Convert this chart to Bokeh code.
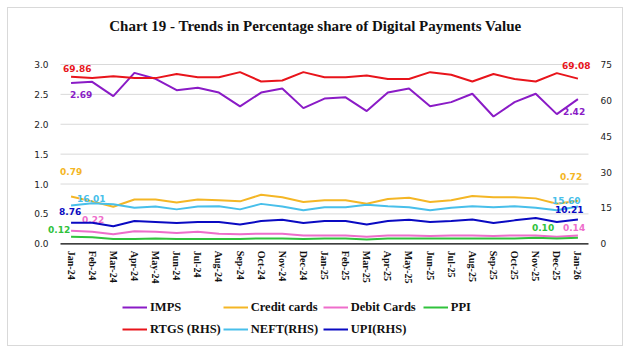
from bokeh.plotting import figure
from bokeh.models import (Range1d, LinearAxis, FixedTicker, FactorRange, Legend, LegendItem,
                          NumeralTickFormatter, Label)
from bokeh.core.properties import value
from bokeh.embed import file_html
from bokeh.resources import INLINE

months = ["Jan-24", "Feb-24", "Mar-24", "Apr-24", "May-24", "Jun-24", "Jul-24", "Aug-24",
          "Sep-24", "Oct-24", "Nov-24", "Dec-24", "Jan-25", "Feb-25", "Mar-25", "Apr-25",
          "May-25", "Jun-25", "Jul-25", "Aug-25", "Sep-25", "Oct-25", "Nov-25", "Dec-25", "Jan-26"]

imps = [2.69, 2.71, 2.47, 2.86, 2.76, 2.57, 2.61, 2.53, 2.30, 2.53, 2.60, 2.27, 2.43,
        2.45, 2.22, 2.53, 2.60, 2.30, 2.37, 2.51, 2.13, 2.37, 2.51, 2.17, 2.42]
credit_cards = [0.79, 0.71, 0.62, 0.74, 0.74, 0.69, 0.74, 0.73, 0.71, 0.82, 0.78, 0.70, 0.73,
                0.73, 0.67, 0.75, 0.77, 0.70, 0.73, 0.80, 0.78, 0.78, 0.76, 0.67, 0.72]
debit_cards = [0.22, 0.20, 0.16, 0.21, 0.20, 0.18, 0.20, 0.17, 0.16, 0.17, 0.17, 0.14, 0.14,
               0.14, 0.12, 0.14, 0.14, 0.13, 0.14, 0.14, 0.13, 0.14, 0.14, 0.12, 0.14]
ppi = [0.12, 0.11, 0.08, 0.08, 0.09, 0.08, 0.08, 0.08, 0.08, 0.09, 0.09, 0.08, 0.09,
       0.09, 0.07, 0.09, 0.09, 0.09, 0.09, 0.09, 0.09, 0.09, 0.10, 0.09, 0.10]
rtgs = [69.86, 69.3, 70.1, 69.3, 69.3, 71.0, 69.7, 69.7, 71.8, 67.9, 68.3, 71.8, 69.7,
        69.7, 70.4, 68.9, 68.9, 71.8, 70.7, 67.9, 71.0, 68.9, 67.9, 71.4, 69.08]
neft = [16.01, 17.0, 16.5, 15.1, 15.6, 14.4, 15.6, 15.75, 14.4, 16.7, 15.6, 14.0, 15.3,
        15.3, 16.3, 15.75, 15.3, 14.0, 15.1, 15.75, 15.3, 15.75, 15.1, 14.0, 15.60]
upi = [8.76, 8.8, 7.3, 9.5, 9.1, 8.7, 9.1, 9.1, 8.1, 9.5, 10.1, 8.7, 9.5,
       9.5, 8.1, 9.5, 10.1, 9.1, 9.5, 10.2, 8.7, 9.8, 10.8, 9.1, 10.21]

left_ticks = [0.0, 0.5, 1.0, 1.5, 2.0, 2.5, 3.0]
right_ticks = [0, 15, 30, 45, 60, 75]

title_text = "Chart 19 - Trends in Percentage share of Digital Payments Value"

# name, values, color, axis, (dx,dy first label), (dx,dy last label)  -- offsets of the
# label's left edge / vertical middle from the point, in pixels
series = [
    ("IMPS", imps, "#8A1BC6", "default", (-1, 11), (-15, 12)),
    ("Credit cards", credit_cards, "#F4B625", "default", (-11, -25), (-18, -24)),
    ("Debit Cards", debit_cards, "#EE6DCB", "default", (11, -11), (-15, -8)),
    ("PPI", ppi, "#30C23C", "default", (-23, -7), (-46, -10)),
    ("RTGS (RHS)", rtgs, "#E8141B", "right", (-8, -8), (-16, -13)),
    ("NEFT(RHS)", neft, "#48BFEA", "right", (6, -7), (-26, -6)),
    ("UPI(RHS)", upi, "#0A0AC2", "right", (-12, -11), (-23, -10)),
]

# The frame covers title and legend too (centre renderers are clipped to it); the value
# axes only tick 0..3 (left) and 0..75 (right) over the plotted band.
n = len(months)
left_min, left_max = -1.7015, 3.9367
right_min, right_max = -42.54, 98.42

p = figure(width=630, height=353,
           x_range=FactorRange(*months, range_padding=0.663, range_padding_units="absolute"),
           y_range=Range1d(left_min, left_max), output_backend="svg", toolbar_location=None,
           min_border_left=46, min_border_right=28, min_border_top=8, min_border_bottom=8)
p.extra_y_ranges = {"right": Range1d(right_min, right_max)}
p.outline_line_color = None
p.background_fill_color = None
p.border_fill_color = None
p.styles = {"box-shadow": "inset 0 0 0 7px #FFFFFF, inset 0 0 0 8px #D9D9D9",
            "background": "#FFFFFF"}

p.xgrid.grid_line_color = None
p.ygrid.grid_line_color = None

# horizontal gridlines across the category span only
grid_y = left_ticks[1:]
p.segment(x0=[0] * len(grid_y), x1=[n] * len(grid_y), y0=grid_y, y1=grid_y,
          line_color="#D9D9D9", line_width=1)
p.segment(x0=[0], x1=[n], y0=[0], y1=[0], line_color="black", line_width=1.2)

lab_font = "DejaVu Sans"
yax = p.yaxis[0]
yax.ticker = FixedTicker(ticks=left_ticks)
yax.formatter = NumeralTickFormatter(format="0.0")
yax.axis_line_color = None
yax.major_tick_line_color = None
yax.minor_tick_line_color = None
yax.major_tick_out = 0
yax.major_label_standoff = -2
yax.major_label_text_font = lab_font
yax.major_label_text_font_size = "9px"
yax.major_label_text_color = "#222222"

rax = LinearAxis(y_range_name="right", ticker=FixedTicker(ticks=right_ticks))
rax.axis_line_color = None
rax.major_tick_line_color = None
rax.minor_tick_line_color = None
rax.major_tick_out = 0
rax.major_label_standoff = -2
rax.major_label_text_font = lab_font
rax.major_label_text_font_size = "9px"
rax.major_label_text_color = "#222222"
p.add_layout(rax, "right")

xax = p.xaxis[0]
xax.fixed_location = 0
xax.axis_line_color = None
xax.major_tick_line_color = None
xax.minor_tick_line_color = None
xax.major_tick_out = 0
xax.major_label_orientation = "vertical"
xax.major_label_standoff = 7
xax.major_label_text_font = "Liberation Serif"
xax.major_label_text_font_style = "bold"
xax.major_label_text_font_size = "10px"
xax.major_label_text_color = "#111111"

items = {}
for name, vals, color, rng, d0, d1 in series:
    kw = {} if rng == "default" else {"y_range_name": "right"}
    r = p.line(months, vals, line_color=color, line_width=2, **kw)
    items[name] = r
    for idx, (dx, dy) in ((0, d0), (len(vals) - 1, d1)):
        p.text([months[idx]], [vals[idx]], text=[f"{vals[idx]:.2f}"], x_offset=dx, y_offset=dy,
               text_color=color, text_font=value(lab_font), text_font_style="bold",
               text_font_size="9px", text_align="left", text_baseline="middle", **kw)

order = ["IMPS", "Credit cards", "Debit Cards", "PPI", "RTGS (RHS)", "NEFT(RHS)", "UPI(RHS)"]
legend = Legend(items=[LegendItem(label=nm, renderers=[items[nm]]) for nm in order],
                location=(76, 6), orientation="horizontal", ncols=4,
                glyph_width=25, glyph_height=20, label_width=70, label_height=20,
                label_standoff=3, spacing=2, padding=0, margin=0,
                border_line_color=None, background_fill_alpha=0,
                label_text_font="Liberation Serif", label_text_font_style="bold",
                label_text_font_size="12.5px", label_text_color="#111111")
p.add_layout(legend, "center")

p.add_layout(Label(x=269, y=320, x_units="screen", y_units="screen", text=title_text,
                   text_font="Liberation Serif", text_font_style="bold", text_font_size="15px",
                   text_align="center", text_baseline="middle", text_color="#111111"))

open("out.html", "w").write(file_html(p, INLINE))
